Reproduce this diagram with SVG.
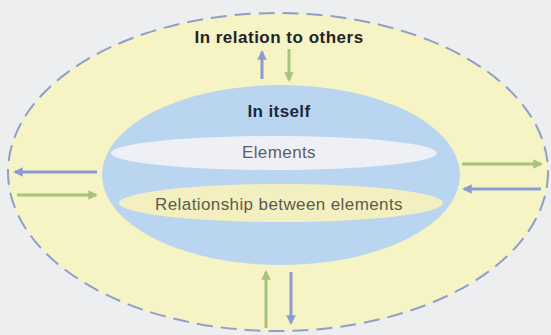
<svg xmlns="http://www.w3.org/2000/svg" width="551" height="335" viewBox="0 0 551 335">
<style>
.bold{font-family:"Liberation Sans",Arial,sans-serif;font-weight:bold;font-size:17px;text-anchor:middle}
.reg{font-family:"Liberation Sans",Arial,sans-serif;font-size:17px;text-anchor:middle}
.ab{stroke:#8d9bd3;stroke-width:3;fill:none}
.ag{stroke:#a8c47c;stroke-width:3;fill:none}
</style>
<defs>
<marker id="hb" viewBox="0 0 10 10" refX="8" refY="5" markerWidth="3.2" markerHeight="3.2" orient="auto" markerUnits="strokeWidth">
<path d="M0,0 L10,5 L0,10 z" fill="#8d9bd3"/>
</marker>
<marker id="hg" viewBox="0 0 10 10" refX="8" refY="5" markerWidth="3.2" markerHeight="3.2" orient="auto" markerUnits="strokeWidth">
<path d="M0,0 L10,5 L0,10 z" fill="#a8c47c"/>
</marker>
</defs>
<rect width="551" height="335" fill="#eceef0"/>
<g id="outer">
<ellipse cx="278" cy="172" rx="270" ry="159" fill="#f6f3c4" stroke="#8f9fc8" stroke-width="2" stroke-dasharray="16 8"/>
<text class="bold" x="279" y="43" fill="#1e2428" letter-spacing="0.5">In relation to others</text>
</g>
<g id="itself">
<ellipse cx="281" cy="175" rx="179" ry="90" fill="#b9d5ef"/>
<text class="bold" x="279" y="117" fill="#1a2840" letter-spacing="0.4">In itself</text>
</g>
<g id="elements">
<ellipse cx="274" cy="153" rx="163" ry="17" fill="#eef0f6"/>
<text class="reg" x="279" y="158" fill="#5a5e68" letter-spacing="0.4">Elements</text>
</g>
<g id="relationship">
<ellipse cx="281" cy="203" rx="162" ry="19" fill="#f3efc0"/>
<text class="reg" x="279" y="210" fill="#5c5c4c" letter-spacing="0.4">Relationship between elements</text>
</g>
<g id="connectors">
<line class="ab" x1="262" y1="79" x2="262" y2="52" marker-end="url(#hb)"/>
<line class="ag" x1="289" y1="49" x2="289" y2="80" marker-end="url(#hg)"/>
<line class="ag" x1="266" y1="328" x2="266" y2="272" marker-end="url(#hg)"/>
<line class="ab" x1="291" y1="272" x2="291" y2="323" marker-end="url(#hb)"/>
<line class="ab" x1="97" y1="172" x2="15" y2="172" marker-end="url(#hb)"/>
<line class="ag" x1="17" y1="195" x2="96" y2="195" marker-end="url(#hg)"/>
<line class="ag" x1="462" y1="164" x2="541" y2="164" marker-end="url(#hg)"/>
<line class="ab" x1="541" y1="189" x2="464" y2="189" marker-end="url(#hb)"/>
</g>
</svg>
